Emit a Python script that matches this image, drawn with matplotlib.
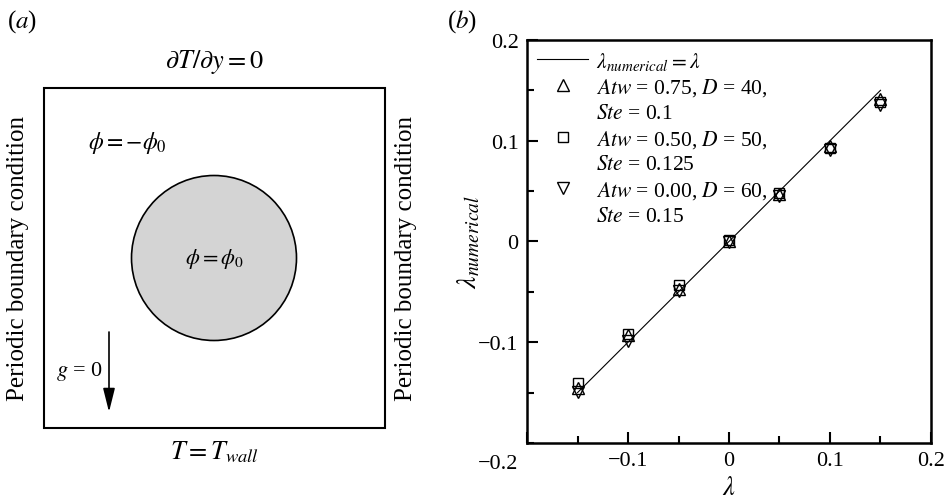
import matplotlib
matplotlib.use("Agg")
import matplotlib.pyplot as plt
from matplotlib.patches import Rectangle, Circle
from matplotlib.lines import Line2D
from matplotlib.ticker import MultipleLocator
from matplotlib.transforms import ScaledTranslation

plt.rcParams["font.family"] = ["Liberation Serif", "DejaVu Serif"]
plt.rcParams["mathtext.fontset"] = "stix"
plt.rcParams["font.size"] = 15

# panel (b) data
lam = [-0.15, -0.10, -0.05, 0.0, 0.05, 0.10, 0.15]
lam_atw075 = [-0.145, -0.093, -0.047, 0.0, 0.047, 0.095, 0.141]
lam_atw050 = [-0.140, -0.092, -0.043, 0.001, 0.048, 0.093, 0.138]
lam_atw000 = [-0.149, -0.099, -0.049, -0.001, 0.045, 0.091, 0.135]
ideal = [-0.15, 0.15]

case_labels = [r"$Atw$ = 0.75, $D$ = 40,",
               r"$Atw$ = 0.50, $D$ = 50,",
               r"$Atw$ = 0.00, $D$ = 60,"]
ste_labels = [r"$Ste$ = 0.1", r"$Ste$ = 0.125", r"$Ste$ = 0.15"]

fig = plt.figure(figsize=(9.47, 5.02), dpi=100)

# ---- panel (a): schematic, drawn in pixel-like units ----
ax_a = fig.add_axes([0, 0, 0.5, 1])
ax_a.set_xlim(0, 473.5)
ax_a.set_ylim(502, 0)
ax_a.axis("off")

box_x0, box_y0, box_w, box_h = 44, 89, 341, 340
circ_cx, circ_cy, circ_r = 214, 259, 82.5

ax_a.add_patch(Rectangle((box_x0, box_y0), box_w, box_h, fill=False,
                         edgecolor="black", linewidth=1.5))
ax_a.add_patch(Circle((circ_cx, circ_cy), circ_r, facecolor="#d4d4d4",
                      edgecolor="black", linewidth=1.2))
ax_a.annotate("", xy=(109, 413), xytext=(109, 333),
              arrowprops=dict(arrowstyle="-|>,head_length=0.8,head_width=0.2",
                              color="black", lw=1.2, mutation_scale=18,
                              shrinkA=0, shrinkB=0))

ax_a.text(7, 22, r"($a$)", ha="left", va="center", fontsize=18)
ax_a.text(214, 62, r"$\partial T/\partial y = 0$", ha="center", va="center",
          fontsize=19)
ax_a.text(214, 452, r"$T = T_{wall}$", ha="center", va="center", fontsize=19)
ax_a.text(88, 143, r"$\phi = -\phi_0$", ha="left", va="center", fontsize=17)
ax_a.text(214, 259, r"$\phi = \phi_0$", ha="center", va="center", fontsize=16)
ax_a.text(56, 372, r"$g$ = 0", ha="left", va="center", fontsize=16)
ax_a.text(18, 259, "Periodic boundary condition", rotation=90,
          ha="center", va="center", fontsize=18)
ax_a.text(406, 259, "Periodic boundary condition", rotation=90,
          ha="center", va="center", fontsize=18)

# ---- panel (b): comparison ----
ax = fig.add_axes([0.5565, 0.1155, 0.4266, 0.803])
line_ideal, = ax.plot(ideal, ideal, color="black", linewidth=0.8)
marker_style = dict(linestyle="none", markerfacecolor="none",
                    markeredgecolor="black", markeredgewidth=1.0)
h1, = ax.plot(lam, lam_atw075, marker="^", markersize=8, **marker_style)
h2, = ax.plot(lam, lam_atw050, marker="s", markersize=7, **marker_style)
h3, = ax.plot(lam, lam_atw000, marker="v", markersize=8, **marker_style)

ax.set_xlim(-0.2, 0.2)
ax.set_ylim(-0.2, 0.2)
ax.set_xticks([-0.2, -0.1, 0, 0.1, 0.2])
ax.set_xticklabels(["", "\u22120.1", "0", "0.1", "0.2"])
ax.set_yticks([-0.1, 0, 0.1, 0.2])
ax.set_yticklabels(["\u22120.1", "0", "0.1", "0.2"])
ax.xaxis.set_minor_locator(MultipleLocator(0.05))
ax.yaxis.set_minor_locator(MultipleLocator(0.05))
ax.tick_params(which="both", direction="in", top=False, right=False, width=1.5)
ax.tick_params(which="major", length=8, pad=6, labelsize=16)
ax.tick_params(which="minor", length=5)
for s in ax.spines.values():
    s.set_linewidth(1.8)
ax.text(-0.2, -0.2, "\u22120.2", ha="right", va="top", fontsize=16,
        transform=ax.transData + ScaledTranslation(-6 / 72, -8 / 72,
                                                   fig.dpi_scale_trans))

ax.set_xlabel(r"$\lambda$", labelpad=4, fontsize=19)
ax.set_ylabel(r"$\lambda_{numerical}$", labelpad=-3, fontsize=20)
fig.text(447 / 947, 1 - 22 / 502, r"($b$)", ha="left", va="center", fontsize=18)

blank = Line2D([], [], linestyle="none")
handles = [line_ideal, h1, blank, h2, blank, h3, blank]
labels = [r"$\lambda_{numerical} = \lambda$",
          case_labels[0], ste_labels[0],
          case_labels[1], ste_labels[1],
          case_labels[2], ste_labels[2]]
ax.legend(handles, labels, loc="upper left", frameon=False,
          handlelength=2.4, borderpad=0, borderaxespad=0.45,
          labelspacing=0.22, handletextpad=0.35, fontsize=15.5)

fig.savefig("out.png", dpi=100)
